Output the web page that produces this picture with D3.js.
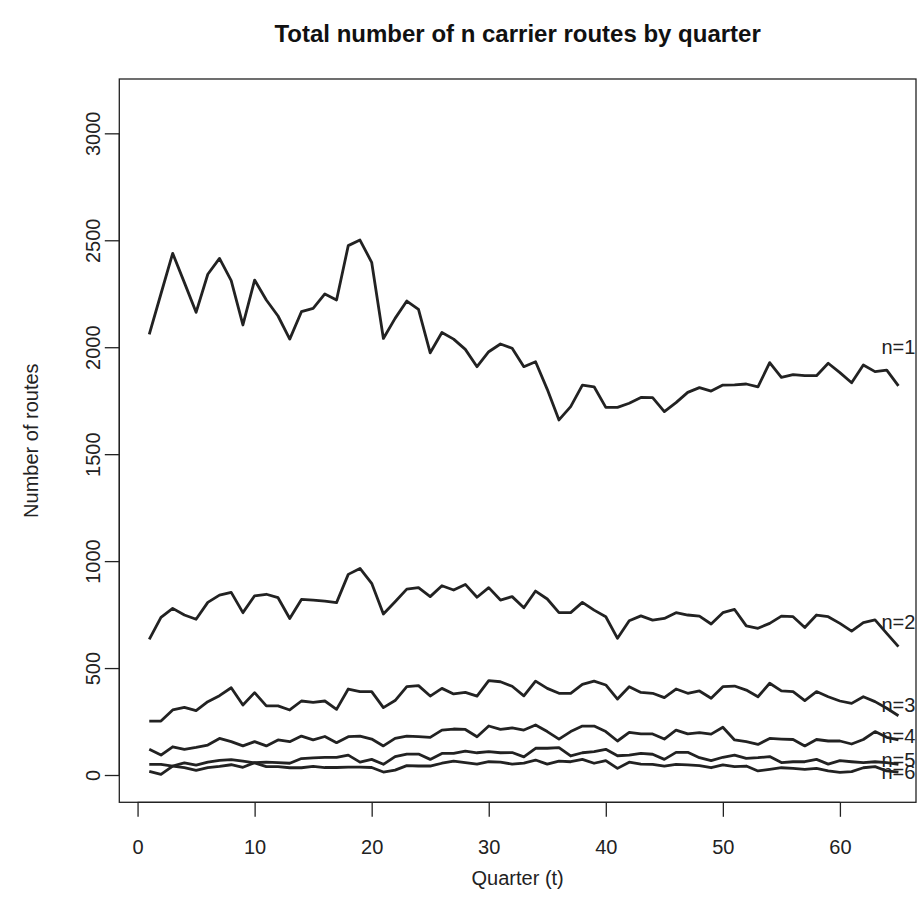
<!DOCTYPE html>
<html><head><meta charset="utf-8">
<script src="https://cdn.jsdelivr.net/npm/d3@7"></script>
<style>body{margin:0;background:#fff}</style>
</head><body>
<svg id="c" width="924" height="921"></svg>
<script>
const title = "Total number of n carrier routes by quarter";
const xTitle = "Quarter (t)";
const yTitle = "Number of routes";
const seriesNames = ["n=1","n=2","n=3","n=4","n=5","n=6"];
const n1 = [2060,2250,2439,2302,2163,2341,2415,2311,2104,2314,2221,2146,2038,2166,2182,2249,2221,2475,2501,2397,2041,2135,2216,2177,1974,2069,2038,1990,1909,1979,2015,1995,1909,1932,1803,1660,1722,1823,1815,1719,1719,1738,1765,1764,1699,1741,1789,1811,1795,1823,1824,1828,1815,1928,1859,1872,1867,1867,1925,1881,1834,1917,1886,1893,1819];
const n2 = [634,737,779,748,728,807,841,854,759,838,845,829,732,821,818,813,806,938,966,896,753,810,869,876,834,885,865,891,831,876,818,834,782,860,823,759,759,807,771,740,639,721,744,724,732,759,748,743,706,759,774,697,686,709,743,740,690,748,740,709,673,712,725,662,600];
const n3 = [252,252,304,316,301,343,371,408,327,385,323,323,304,346,340,346,307,402,390,390,315,348,413,418,369,405,379,386,369,441,436,415,370,439,405,382,382,424,439,421,355,413,386,382,362,402,382,393,359,413,416,397,366,429,393,390,348,390,366,346,335,366,343,312,277];
const n4 = [120,93,132,120,129,140,171,156,136,156,136,164,156,182,164,180,151,179,182,168,136,171,182,179,176,210,215,213,179,229,213,220,210,234,203,168,203,229,229,203,159,199,192,192,168,210,192,198,191,223,164,156,143,171,168,166,136,166,159,159,145,166,203,176,164];
const n5 = [50,50,42,34,22,35,40,48,36,58,60,58,55,77,80,82,82,93,60,73,50,86,98,98,73,101,101,112,104,109,104,105,85,125,125,128,89,104,109,120,90,93,101,97,73,106,106,81,67,83,93,78,81,86,58,62,62,73,51,67,62,58,62,58,50];
const n6 = [17,3,42,57,46,60,68,72,65,57,39,39,34,34,40,35,35,37,37,35,14,23,44,42,42,55,65,58,51,62,60,51,56,70,51,65,62,73,55,67,31,60,51,50,42,50,47,44,34,47,39,42,19,26,34,31,26,31,19,12,16,34,39,19,13];
const labelValues = [2000, 717, 327, 185, 72, 17];
const xTicks = [0,10,20,30,40,50,60];
const yTicks = [0,500,1000,1500,2000,2500,3000];

const series = [n1,n2,n3,n4,n5,n6];
const ink = "#222";
const font = "'Liberation Sans', Arial, Helvetica, sans-serif";
const svg = d3.select("#c");
const L = 119.3, R = 916, T = 79, B = 802.3;
const x = d3.scaleLinear().domain([-1.56, 66.5]).range([L, R]);
const y = d3.scaleLinear().domain([-127.6, 3254]).range([B, T]);

svg.append("rect").attr("width",924).attr("height",921).attr("fill","#fff");

const line = d3.line().x((d,i)=>x(i+1)).y(d=>y(d));
series.forEach(s => {
  svg.append("path").attr("d", line(s)).attr("fill","none")
     .attr("stroke", ink).attr("stroke-width", 2.8).attr("stroke-linejoin","round");
});

// box
svg.append("rect").attr("x",L).attr("y",T).attr("width",R-L).attr("height",B-T)
   .attr("fill","none").attr("stroke",ink).attr("stroke-width",1.3);

// x axis
const xa = svg.append("g").attr("transform",`translate(0,${B})`)
  .call(d3.axisBottom(x).tickValues(xTicks).tickSize(14.5).tickSizeOuter(0).tickPadding(0).tickFormat(d3.format("d")));
xa.select(".domain").attr("d", `M${x(0)},0H${x(60)}`).attr("stroke",ink).attr("stroke-width",1.3);
xa.selectAll(".tick line").attr("stroke",ink).attr("stroke-width",1.3);
xa.selectAll(".tick text").attr("y", 51.5).attr("dy",null).attr("fill",ink)
  .style("font-family",font).style("font-size","20px");

// y axis
const ya = svg.append("g").attr("transform",`translate(${L},0)`)
  .call(d3.axisLeft(y).tickValues(yTicks).tickSize(14.5).tickSizeOuter(0).tickPadding(0).tickFormat(d3.format("d")));
ya.select(".domain").attr("d", `M0,${y(0)}V${y(3000)}`).attr("stroke",ink).attr("stroke-width",1.3);
ya.selectAll(".tick line").attr("stroke",ink).attr("stroke-width",1.3);
ya.selectAll(".tick text").attr("x",null).attr("dy",null)
  .attr("transform","translate(-19.8,0) rotate(-90)").attr("text-anchor","middle")
  .attr("fill",ink).style("font-family",font).style("font-size","20px");

// series labels
svg.append("g").selectAll("text").data(seriesNames).join("text")
  .attr("x", x(65)).attr("y",(d,i)=>y(labelValues[i]) + 7.2)
  .attr("text-anchor","middle").attr("fill",ink)
  .style("font-family",font).style("font-size","20px").text(d=>d);

// titles
svg.append("text").attr("x",(L+R)/2).attr("y",41.5).attr("text-anchor","middle")
  .attr("fill","#111").style("font-family",font).style("font-size","24px").style("font-weight","bold").text(title);
svg.append("text").attr("x",(L+R)/2).attr("y",885).attr("text-anchor","middle")
  .attr("fill",ink).style("font-family",font).style("font-size","20px").text(xTitle);
svg.append("text").attr("transform",`translate(37.5,${(T+B)/2}) rotate(-90)`).attr("text-anchor","middle")
  .attr("fill",ink).style("font-family",font).style("font-size","20px").text(yTitle);
</script>
</body></html>
